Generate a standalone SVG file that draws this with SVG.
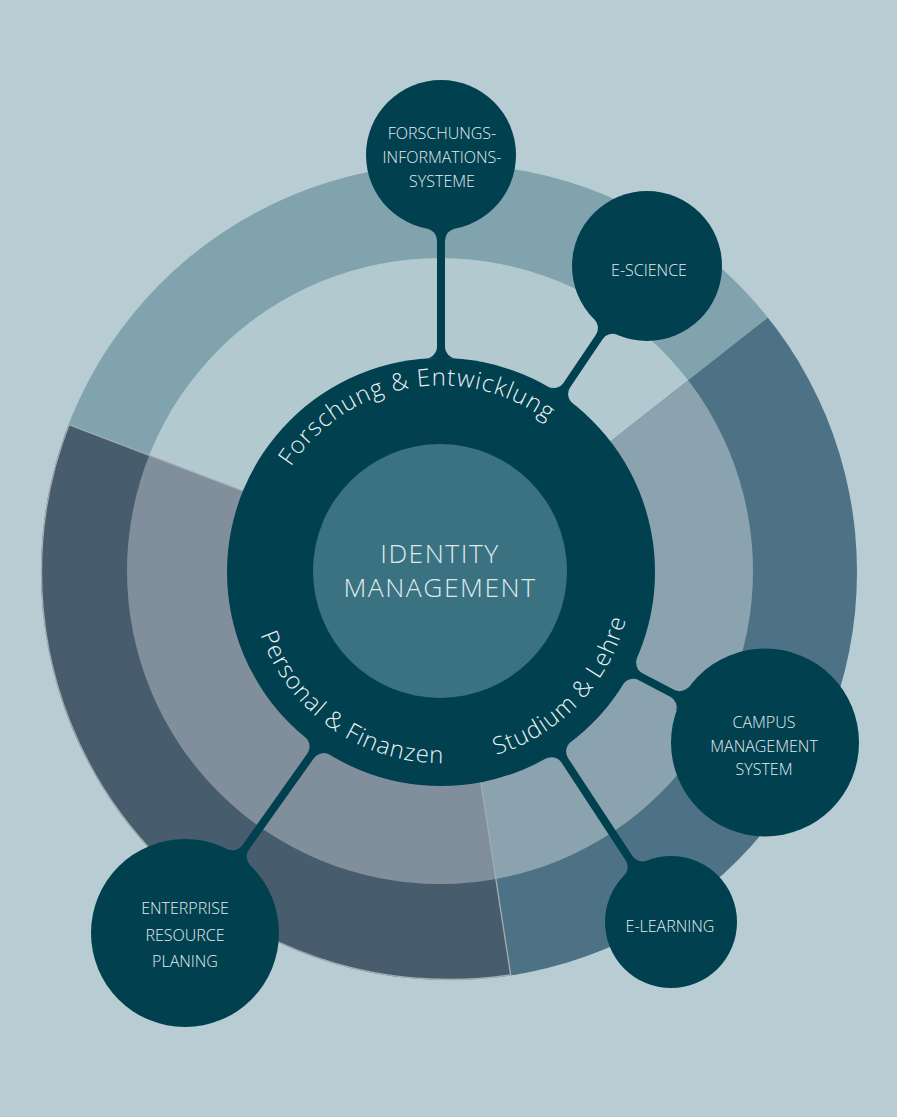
<svg xmlns="http://www.w3.org/2000/svg" width="897" height="1117" viewBox="0 0 897 1117">
<style>
.dark{fill:#00404f}
.lbl{font-family:"Open Sans","Noto Sans","Liberation Sans",sans-serif;font-size:16px;fill:#e4edef;text-anchor:middle;font-weight:300}
.arc{font-family:"Open Sans","Noto Sans","Liberation Sans",sans-serif;font-size:24px;fill:#e8f0f2;letter-spacing:1px;font-weight:300}
.core{font-family:"Open Sans","Noto Sans","Liberation Sans",sans-serif;font-size:26.5px;fill:#dfe9ec;text-anchor:middle;letter-spacing:1.5px;font-weight:300}
.edge{stroke:#a4acb1;stroke-width:1.3;fill:none}
</style>
<defs>
<clipPath id="clipOuter"><circle cx="449" cy="572" r="408"/></clipPath>
<clipPath id="clipInner"><circle cx="440" cy="571" r="313"/></clipPath>
<clipPath id="clipLeftWedge"><polygon points="441,572 468.8,703.9 556.8,1273.5 -400,1400 -399.5,246.2 296.1,511.4"/></clipPath>
<polygon id="wTop" points="441,572 296.1,511.4 -399.5,246.2 -400,-300 1300,-300 1239.5,-52.9 577.1,467.4"/>
<polygon id="wRight" points="441,572 577.1,467.4 1239.5,-52.9 1300,-300 1400,-300 1400,1400 556.8,1273.5 468.8,703.9"/>
<polygon id="wLeft" points="441,572 468.8,703.9 556.8,1273.5 -400,1400 -399.5,246.2 296.1,511.4"/>
<path id="arcTop" d="M 272.5 621.9 A 178 178 0 1 1 618.6 560.5"/>
<path id="arcPF" d="M 267.9 491.3 A 191 191 0 0 0 576.1 707.1"/>
<path id="arcSL" d="M 364.2 746.9 A 191 191 0 0 0 612.2 487.4"/>
</defs>
<rect x="0" y="0" width="897" height="1117" fill="#b7ccd3"/>
<g id="rings">
<g clip-path="url(#clipOuter)">
<use href="#wTop" fill="#80a3ad"/>
<use href="#wRight" fill="#4e7285"/>
<use href="#wLeft" fill="#475c6c"/>
</g>
<g clip-path="url(#clipInner)">
<use href="#wTop" fill="#b2c9cf"/>
<use href="#wRight" fill="#8ba3af"/>
<use href="#wLeft" fill="#818f9c"/>
</g>
<g clip-path="url(#clipOuter)">
<line class="edge" x1="296.1" y1="511.4" x2="-399.5" y2="246.2"/>
<line class="edge" x1="468.8" y1="703.9" x2="556.8" y2="1273.5"/>
</g>
<g clip-path="url(#clipLeftWedge)">
<circle class="edge" cx="449" cy="572" r="407.5"/>
</g>
</g>
<g id="connectors" class="dark">
<path d="M 454.79 228.72 A 12 12 0 0 0 445 240.52 L 445 346.57 A 12 12 0 0 0 456.15 358.54 L 425.85 358.54 A 12 12 0 0 0 437 346.57 L 437 240.52 A 12 12 0 0 0 427.21 228.72 Z"/>
<path d="M 617.28 334.85 A 12 12 0 0 0 602.57 339.17 L 570.20 387.23 A 12 12 0 0 0 572.76 403.39 L 547.63 386.47 A 12 12 0 0 0 563.56 382.77 L 595.93 334.71 A 12 12 0 0 0 594.40 319.46 Z"/>
<path d="M 676.13 711.39 A 12 12 0 0 0 670.35 696.85 L 638.76 680.27 A 12 12 0 0 0 622.98 684.59 L 637.06 657.75 A 12 12 0 0 0 642.48 673.19 L 674.07 689.77 A 12 12 0 0 0 689.30 686.26 Z"/>
<path d="M 624.21 875.45 A 12 12 0 0 0 625.73 860.40 L 561.47 762.59 A 12 12 0 0 0 545.58 758.71 L 570.90 742.06 A 12 12 0 0 0 568.15 758.19 L 632.41 856.00 A 12 12 0 0 0 646.83 860.58 Z"/>
<path d="M 227.18 848.99 A 12 12 0 0 0 242.35 845.21 L 307.35 753.57 A 12 12 0 0 0 305.18 737.36 L 329.89 754.88 A 12 12 0 0 0 313.87 758.19 L 248.87 849.83 A 12 12 0 0 0 250.32 865.40 Z"/>
</g>
<g id="node-core">
<circle class="dark" cx="441" cy="572" r="214"/>
<circle cx="440" cy="571" r="127" fill="#3a7282"/>
<text class="arc"><textPath href="#arcTop" startOffset="50%" text-anchor="middle">Forschung &amp; Entwicklung</textPath></text>
<text class="arc"><textPath href="#arcPF" startOffset="50%" text-anchor="middle">Personal &amp; Finanzen</textPath></text>
<text class="arc"><textPath href="#arcSL" startOffset="50%" text-anchor="middle">Studium &amp; Lehre</textPath></text>
<text class="core" x="440" y="563">IDENTITY</text>
<text class="core" x="440" y="597">MANAGEMENT</text>
</g>
<g id="node-fis">
<circle class="dark" cx="441" cy="155" r="75"/>
<text class="lbl" x="442" y="138.5">FORSCHUNGS-</text>
<text class="lbl" x="442" y="163">INFORMATIONS-</text>
<text class="lbl" x="442" y="187">SYSTEME</text>
</g>
<g id="node-escience">
<circle class="dark" cx="647" cy="266" r="75"/>
<text class="lbl" x="649" y="276">E-SCIENCE</text>
</g>
<g id="node-campus">
<circle class="dark" cx="765" cy="742.5" r="94"/>
<text class="lbl" x="764" y="728">CAMPUS</text>
<text class="lbl" x="764" y="751.5">MANAGEMENT</text>
<text class="lbl" x="764" y="775">SYSTEM</text>
</g>
<g id="node-elearning">
<circle class="dark" cx="671" cy="922" r="66"/>
<text class="lbl" x="670" y="932">E-LEARNING</text>
</g>
<g id="node-erp">
<circle class="dark" cx="185" cy="933" r="94"/>
<text class="lbl" x="185" y="914">ENTERPRISE</text>
<text class="lbl" x="185" y="940.5">RESOURCE</text>
<text class="lbl" x="185" y="966.5">PLANING</text>
</g>
</svg>
